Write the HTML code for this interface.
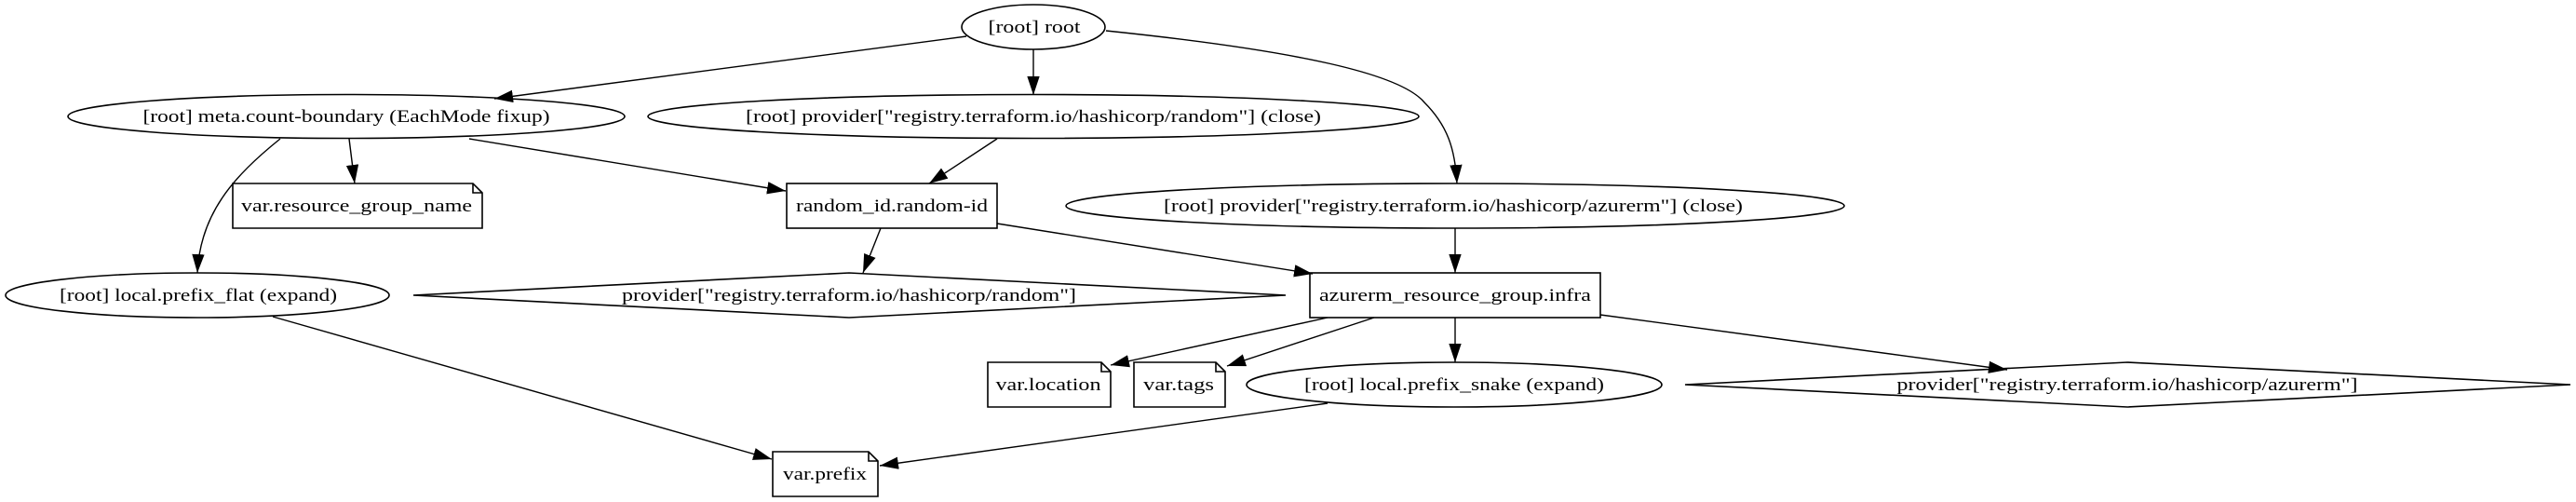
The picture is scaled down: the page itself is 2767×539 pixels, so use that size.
<!DOCTYPE html>
<html><head><meta charset="utf-8"><style>html,body{margin:0;padding:0;background:#fff}svg{display:block}</style></head>
<body>
<svg width="2767" height="539" viewBox="0 0 2767 539" xmlns="http://www.w3.org/2000/svg">
<defs>
<marker id="a" markerUnits="userSpaceOnUse" markerWidth="20" markerHeight="14" viewBox="0 0 18 12" refX="18" refY="6" orient="auto">
<path d="M0,0 L18,6 L0,12 Z" fill="#000"/>
</marker>
</defs>
<g fill="none" stroke="#000" stroke-width="1.6">
<ellipse cx="1110" cy="29" rx="77" ry="24"/>
<ellipse cx="372" cy="125" rx="299" ry="23.5"/>
<ellipse cx="1110" cy="125" rx="414" ry="23.5"/>
<path d="M250,197 H508 L518,207 V245 H250 Z M508,197 V207 H518"/>
<rect x="845" y="197" width="226" height="48"/>
<ellipse cx="1563" cy="221" rx="418" ry="24"/>
<ellipse cx="212" cy="317" rx="206" ry="24"/>
<path d="M444,317 L912,293 L1381,317 L912,341 Z"/>
<rect x="1407" y="293" width="312" height="48"/>
<path d="M1061,389 H1183 L1193,399 V437 H1061 Z M1183,389 V399 H1193"/>
<path d="M1218,389 H1306 L1316,399 V437 H1218 Z M1306,389 V399 H1316"/>
<ellipse cx="1562" cy="413" rx="223" ry="24"/>
<path d="M1810,413 L2285,389 L2761,413 L2285,437 Z"/>
<path d="M830,485 H933 L943,495 V533 H830 Z M933,485 V495 H943"/>
</g>
<g fill="none" stroke="#000" stroke-width="1.4" marker-end="url(#a)">
<path d="M1038,39 L531,106"/>
<path d="M1110,53 L1110,102"/>
<path d="M1188,33 C1400,55 1505,80 1530,110 C1555,135 1563,160 1565,197"/>
<path d="M375,149 L381,197"/>
<path d="M504,149 L844,205"/>
<path d="M301,149 C250,190 215,230 212,293"/>
<path d="M1071,149 L998,197"/>
<path d="M946,245 L927,293"/>
<path d="M1071,240 L1410,294"/>
<path d="M1563,245 L1563,293"/>
<path d="M1426,341 L1193,392"/>
<path d="M1476,341 L1318,393"/>
<path d="M1563,341 L1563,389"/>
<path d="M1719,338 L2156,397"/>
<path d="M293,340 L829,493"/>
<path d="M1426,433 L945,500"/>
</g>
<g font-family="'Liberation Serif',serif" font-size="19" fill="#000" text-anchor="middle" lengthAdjust="spacingAndGlyphs">
<text x="1111" y="35" textLength="99" lengthAdjust="spacingAndGlyphs">[root] root</text>
<text x="372" y="131" textLength="437" lengthAdjust="spacingAndGlyphs">[root] meta.count-boundary (EachMode fixup)</text>
<text x="1110" y="131" textLength="618" lengthAdjust="spacingAndGlyphs">[root] provider["registry.terraform.io/hashicorp/random"] (close)</text>
<text x="383" y="227" textLength="248" lengthAdjust="spacingAndGlyphs">var.resource_group_name</text>
<text x="958" y="227" textLength="206" lengthAdjust="spacingAndGlyphs">random_id.random-id</text>
<text x="1561" y="227" textLength="622" lengthAdjust="spacingAndGlyphs">[root] provider["registry.terraform.io/hashicorp/azurerm"] (close)</text>
<text x="213" y="323" textLength="298" lengthAdjust="spacingAndGlyphs">[root] local.prefix_flat (expand)</text>
<text x="912" y="323" textLength="488" lengthAdjust="spacingAndGlyphs">provider["registry.terraform.io/hashicorp/random"]</text>
<text x="1563" y="323" textLength="292" lengthAdjust="spacingAndGlyphs">azurerm_resource_group.infra</text>
<text x="1126" y="419" textLength="113" lengthAdjust="spacingAndGlyphs">var.location</text>
<text x="1266" y="419" textLength="76" lengthAdjust="spacingAndGlyphs">var.tags</text>
<text x="1562" y="419" textLength="322" lengthAdjust="spacingAndGlyphs">[root] local.prefix_snake (expand)</text>
<text x="2285" y="419" textLength="495" lengthAdjust="spacingAndGlyphs">provider["registry.terraform.io/hashicorp/azurerm"]</text>
<text x="886" y="515" textLength="90" lengthAdjust="spacingAndGlyphs">var.prefix</text>
</g>
</svg>
</body></html>
